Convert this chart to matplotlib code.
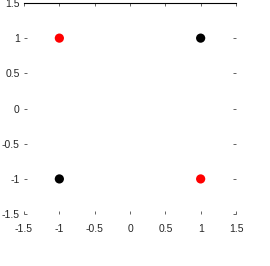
import matplotlib
matplotlib.use("Agg")
import matplotlib.pyplot as plt

# xor input patterns
x_red = [-1, 1]
y_red = [1, -1]
x_black = [1, -1]
y_black = [1, -1]
ticks = [-1.5, -1, -0.5, 0, 0.5, 1, 1.5]
tick_labels = ["-1.5", "-1", "-0.5", "0", "0.5", "1", "1.5"]

plt.rcParams['font.family'] = ['Liberation Sans', 'DejaVu Sans']

fig = plt.figure(figsize=(2.70, 2.66), dpi=100)
ax = fig.add_axes([0.089, 0.195, 0.785, 0.794])

ax.scatter(x_red, y_red, s=44, color=(1, 0, 0), edgecolors='none', zorder=3)
ax.scatter(x_black, y_black, s=44, color='black', edgecolors='none', zorder=3)

ax.set_xlim(-1.5, 1.5)
ax.set_ylim(-1.5, 1.5)
ax.set_xticks(ticks)
ax.set_xticklabels(tick_labels)
ax.set_yticks(ticks)
ax.set_yticklabels(tick_labels)

for side in ['left', 'right', 'bottom']:
    ax.spines[side].set_visible(False)
ax.spines['top'].set_linewidth(0.8)

ax.tick_params(axis='both', direction='in', length=2, width=0.5,
               labelsize=7.5, labelcolor='#262626', color='#262626',
               top=True, right=True)
ax.tick_params(axis='x', pad=7)
ax.tick_params(axis='y', pad=3)

# caption below the plot, mostly cut off by the figure edge
fig.text(0.5, -0.047, "Scatter plot of the xor data set", ha='center', va='bottom',
         fontsize=9, color='#262626')

fig.savefig("out.png", dpi=100)
